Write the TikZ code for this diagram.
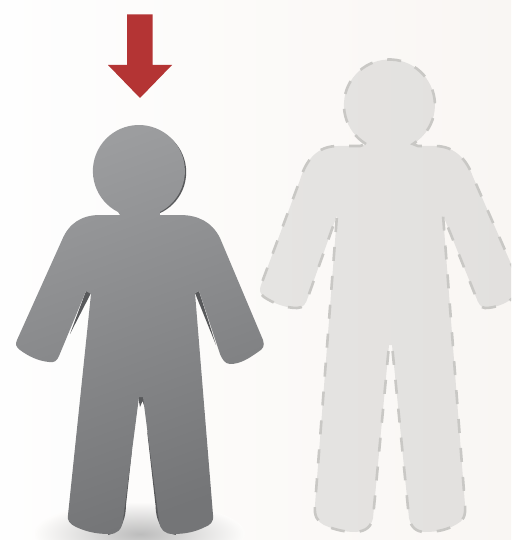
\documentclass[tikz,border=0pt]{standalone}
\usetikzlibrary{calc}
\definecolor{bgleft}{HTML}{FEFEFE}
\definecolor{bgright}{HTML}{F9F6F3}
\definecolor{bgground}{HTML}{FDFCFB}
\definecolor{arrowred}{HTML}{B43434}
\definecolor{solidtop}{HTML}{9C9D9F}
\definecolor{solidbot}{HTML}{747577}
\definecolor{soliddark}{HTML}{58595B}
\definecolor{ghostleft}{HTML}{E5E4E2}
\definecolor{ghostright}{HTML}{E2E0DE}
\definecolor{ghostline}{HTML}{C9C8C5}
\tikzset{
  backdrop/.style  = {left color=bgleft, right color=bgright},
  solidfig/.style  = {top color=solidtop, bottom color=solidbot, shading angle=20},
  sliver/.style    = {fill=soliddark},
  ghostfig/.style  = {left color=ghostleft, right color=ghostright},
  ghostedge/.style = {draw=ghostline, line width=2.6pt, dash pattern=on 14pt off 15pt, line cap=butt},
  downarrow/.style = {fill=arrowred},
}
\newcommand{\solidpath}{
  (118,212) arc[start angle=117, end angle=423, radius=46]
  -- (160,215) -- (180,215)
  .. controls (198,215) and (212,222) .. (220,238)
  -- (263,340) .. controls (265,346) and (263,349) .. (258,352)
  .. controls (248,359) and (240,364) .. (230,364)
  .. controls (225,364) and (222,359) .. (220,354)
  -- (199,291) -- (195,293) -- (213,515) .. controls (214,522) and (210,525) .. (205,527)
  .. controls (195,532) and (185,534) .. (173,534)
  .. controls (165,534) and (160,530) .. (159,521)
  -- (143,397) -- (139,397) -- (123,520)
  .. controls (122,530) and (117,534) .. (109,534)
  .. controls (97,534) and (87,532) .. (76,527)
  .. controls (70,524) and (67,521) .. (68,515)
  -- (91,294) -- (86,291) -- (59,356)
  .. controls (57,361) and (54,363) .. (49,362)
  .. controls (38,361) and (28,356) .. (20,350)
  .. controls (16,347) and (15,344) .. (17,340)
  -- (62,240) .. controls (69,223) and (82,215) .. (100,215)
  -- (120,215) -- cycle
}
\newcommand{\ghostpath}{
  (366,144) arc[start angle=121, end angle=419, radius=45.5]
  -- (418,146) -- (435,146)
  .. controls (455,146) and (467,160) .. (473,177)
  -- (519,282) .. controls (521,290) and (518,295) .. (513,298)
  .. controls (505,304) and (495,308) .. (485,308)
  .. controls (481,308) and (478,303) .. (476,297)
  -- (443,215) -- (465,505) .. controls (466,516) and (463,521) .. (457,524)
  .. controls (447,530) and (437,532) .. (425,532)
  .. controls (416,532) and (411,527) .. (409,518)
  -- (392,345) -- (389,345) -- (373,518)
  .. controls (371,527) and (366,531) .. (356,532)
  .. controls (345,532) and (335,530) .. (324,525)
  .. controls (317,521) and (314,516) .. (315,505)
  -- (337,215) -- (308,297)
  .. controls (306,304) and (303,308) .. (297,308)
  .. controls (285,308) and (273,303) .. (264,297)
  .. controls (260,294) and (259,290) .. (261,285)
  -- (300,180) .. controls (306,160) and (317,146) .. (338,146)
  -- (360,146) -- cycle
}
\begin{document}
\begin{tikzpicture}[x=1pt,y=-1pt]
  \useasboundingbox (0,0) rectangle (511,540);
  \clip (0,0) rectangle (511,540);
  \shade[backdrop] (0,0) rectangle (511,540);

  % ground under the solid figure
  \shade[inner color=black!26, outer color=bgground] (140,534) ellipse[x radius=105, y radius=32];

  \fill[downarrow] (127,14.5) -- (152.5,14.5) -- (152.5,65) -- (172,65) -- (140,98)
    -- (108,65) -- (127,65) -- cycle;

  % slivers that show behind the solid figure
  \fill[sliver] (141.2,172.2) circle[radius=45];
  \fill[sliver] (86,291) -- (91,293) -- (70,334) -- cycle;
  \fill[sliver] (199,291) -- (195,293) -- (216,345) -- cycle;
  \fill[sliver] (138,396) -- (145,396) -- (144.5,407) -- (142.5,401) -- (140,407) -- cycle;
  \fill[sliver] (132,450) -- (126,505) .. controls (125.5,525) and (118,533) .. (108,535) -- (118,505) -- cycle;
  \fill[sliver] (147,430) -- (155.5,505) .. controls (156,525) and (164,533) .. (176,535) -- (165,505) -- cycle;

  \shade[solidfig] \solidpath;

  \shade[ghostfig] \ghostpath;
  \path[ghostedge] \ghostpath;
\end{tikzpicture}
\end{document}
